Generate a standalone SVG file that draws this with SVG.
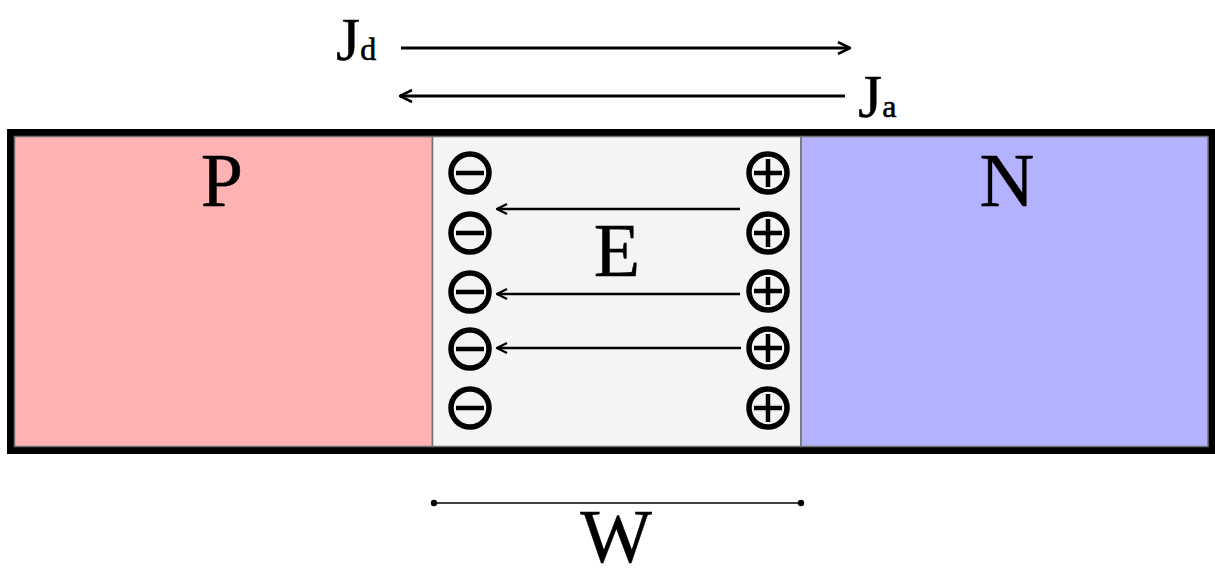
<svg xmlns="http://www.w3.org/2000/svg" width="1215" height="572" viewBox="0 0 1215 572">
<style>
.lbl{font-family:"Liberation Serif","Times New Roman",serif;fill:#000;stroke:#000;stroke-width:0.4;}
.region{stroke:#707070;stroke-width:1.5;}
.chg{fill:none;stroke:#000;stroke-width:5.5;}
.bar{stroke:#000;stroke-width:4.5;}
.fld{stroke:#000;stroke-width:2.5;fill:none;}
.cur{stroke:#000;stroke-width:3;fill:none;}
</style>
<defs>
<marker id="chev" viewBox="0 0 12 12" refX="11" refY="6" markerWidth="12" markerHeight="12" markerUnits="userSpaceOnUse" orient="auto">
<path d="M1,1 L11,6 L1,11" fill="none" stroke="#000" stroke-width="2.2"/>
</marker>
<marker id="chev2" viewBox="0 0 14 14" refX="13" refY="7" markerWidth="14" markerHeight="14" markerUnits="userSpaceOnUse" orient="auto">
<path d="M1,1 L13,7 L1,13" fill="none" stroke="#000" stroke-width="2.6"/>
</marker>
<g id="minus"><circle cx="0" cy="0" r="19" class="chg"/><line x1="-14" y1="0" x2="14" y2="0" class="bar"/></g>
<g id="plus"><circle cx="0" cy="0" r="19" class="chg"/><line x1="-14" y1="0" x2="14" y2="0" class="bar"/><line x1="0" y1="-14" x2="0" y2="14" class="bar"/></g>
</defs>
<rect width="1215" height="572" fill="#fff"/>
<rect x="10.5" y="132.5" width="1201" height="318" fill="#000" stroke="#000" stroke-width="7"/>
<g id="p-region">
<rect x="14.5" y="136.5" width="418" height="310" fill="#ffb2b2" class="region"/>
<text x="222" y="206" font-size="76" text-anchor="middle" class="lbl">P</text>
</g>
<g id="depletion">
<rect x="432.5" y="136.5" width="368.5" height="310" fill="#f5f3f3" class="region"/>
<text x="617" y="276" font-size="76" text-anchor="middle" class="lbl">E</text>
</g>
<g id="n-region">
<rect x="801" y="136.5" width="407" height="310" fill="#b2b2ff" class="region"/>
<text x="1007" y="206" font-size="76" text-anchor="middle" class="lbl">N</text>
</g>
<g id="negative-charges">
<use href="#minus" x="470" y="173"/>
<use href="#minus" x="470" y="233"/>
<use href="#minus" x="470" y="292"/>
<use href="#minus" x="470" y="349"/>
<use href="#minus" x="470" y="408"/>
</g>
<g id="positive-charges">
<use href="#plus" x="768" y="173"/>
<use href="#plus" x="768" y="233"/>
<use href="#plus" x="768" y="291"/>
<use href="#plus" x="768" y="348"/>
<use href="#plus" x="768" y="408"/>
</g>
<g id="label-jd"><text x="336" y="60" font-size="62" class="lbl" stroke-width="1.5">J<tspan font-size="32" stroke-width="0.6">d</tspan></text></g>
<g id="label-ja"><text x="858" y="117" font-size="62" class="lbl" stroke-width="1.5">J<tspan font-size="32" stroke-width="0.6">a</tspan></text></g>
<g id="label-w"><text x="616" y="562" font-size="76" text-anchor="middle" class="lbl">W</text></g>
<g id="connectors">
<line x1="401" y1="48" x2="850" y2="48" class="cur" marker-end="url(#chev2)"/>
<line x1="845" y1="96" x2="400" y2="96" class="cur" marker-end="url(#chev2)"/>
<line x1="740" y1="209" x2="497" y2="209" class="fld" marker-end="url(#chev)"/>
<line x1="740" y1="294" x2="497" y2="294" class="fld" marker-end="url(#chev)"/>
<line x1="741" y1="348" x2="497" y2="348" class="fld" marker-end="url(#chev)"/>
<line x1="434" y1="503" x2="801" y2="503" stroke="#000" stroke-width="1.5"/>
<circle cx="434" cy="503" r="3.2" fill="#000"/>
<circle cx="801" cy="503" r="3.2" fill="#000"/>
</g>
</svg>
